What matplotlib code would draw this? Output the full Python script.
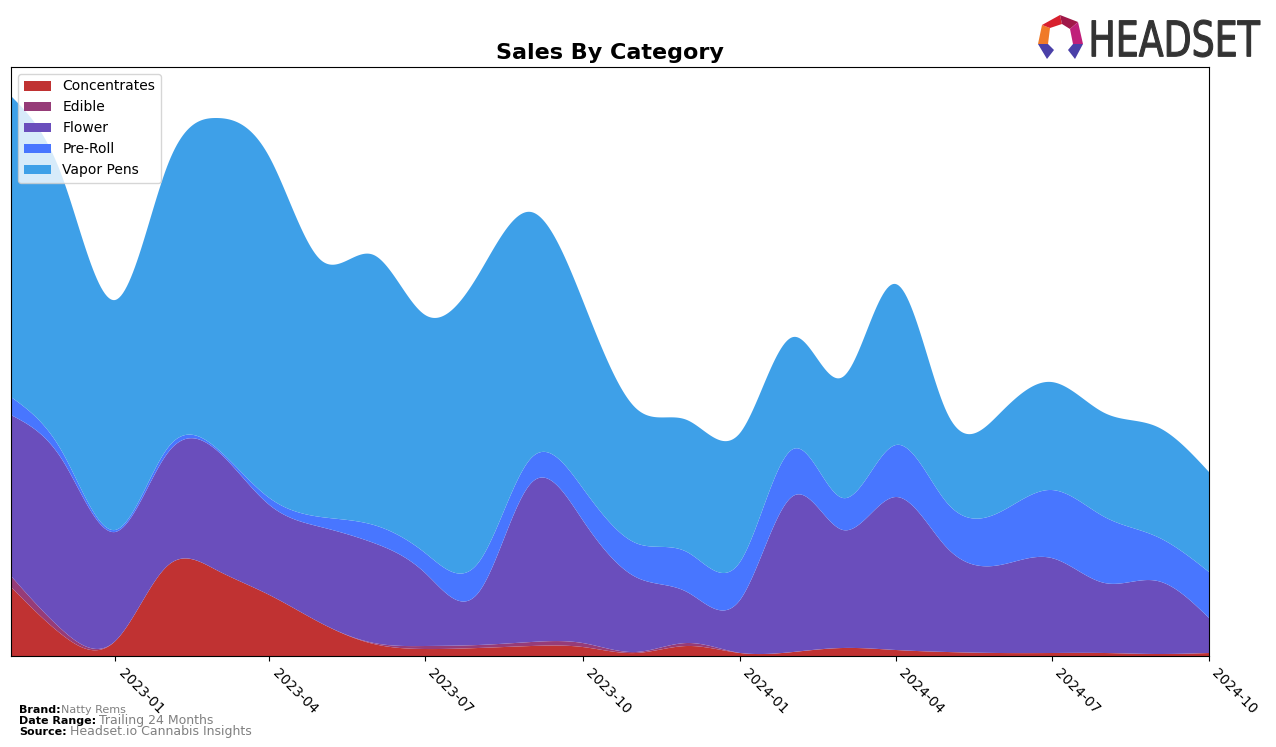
import numpy as np
import pandas as pd
import matplotlib
matplotlib.use('Agg')
import matplotlib.pyplot as plt
import matplotlib.dates as mdates
from matplotlib.patches import Polygon, PathPatch
from matplotlib.textpath import TextPath
from matplotlib.font_manager import FontProperties
from matplotlib.transforms import Affine2D

# monthly sales by category (relative units)
months = pd.date_range('2022-11-01', '2024-10-01', freq='MS')
concentrates = [69, 21, 15, 91, 86, 61, 33, 12, 7, 8, 10, 9, 3, 10, 3, 4, 8, 6, 4, 3, 3, 3, 2, 3]
edible = [11, 5, 0, 0, 0, 0, 0, 1, 3, 3, 4, 4, 1, 3, 0, 0, 0, 0, 0, 0, 0, 0, 0, 0]
flower = [161, 170, 109, 113, 120, 90, 96, 100, 73, 52, 159, 123, 75, 51, 53, 156, 118, 153, 104, 88, 95, 70, 73, 35]
pre_roll = [18, 8, 2, 5, 2, 7, 10, 18, 20, 30, 25, 32, 34, 40, 38, 47, 32, 52, 45, 53, 68, 66, 44, 46]
vapor_pens = [301, 275, 230, 284, 330, 341, 257, 270, 238, 288, 246, 188, 135, 132, 129, 112, 121, 161, 90, 99, 108, 104, 110, 100]

labels = ['Concentrates', 'Edible', 'Flower', 'Pre-Roll', 'Vapor Pens']
colors = ['#c03232', '#963c78', '#6a4ebc', '#4876ff', '#3ea0e8']


def natural_spline(x, y, xs):
    # plain natural cubic spline, numpy only
    x = np.asarray(x, float)
    y = np.asarray(y, float)
    n = len(x)
    h = np.diff(x)
    A = np.zeros((n, n))
    b = np.zeros(n)
    A[0, 0] = 1
    A[-1, -1] = 1
    for i in range(1, n - 1):
        A[i, i - 1] = h[i - 1]
        A[i, i] = 2 * (h[i - 1] + h[i])
        A[i, i + 1] = h[i]
        b[i] = 3 * ((y[i + 1] - y[i]) / h[i] - (y[i] - y[i - 1]) / h[i - 1])
    c = np.linalg.solve(A, b)
    bc = (y[1:] - y[:-1]) / h - h * (2 * c[:-1] + c[1:]) / 3
    d = (c[1:] - c[:-1]) / (3 * h)
    idx = np.clip(np.searchsorted(x, xs) - 1, 0, n - 2)
    dx = xs - x[idx]
    return y[idx] + bc[idx] * dx + c[idx] * dx ** 2 + d[idx] * dx ** 3


xnum = mdates.date2num(months)
xs = np.linspace(xnum[0], xnum[-1], 600)
series = [concentrates, edible, flower, pre_roll, vapor_pens]
smooth = [np.clip(natural_spline(xnum, s, xs), 0, None) for s in series]

fig = plt.figure(figsize=(12.76, 7.47), dpi=100)
ax = fig.add_axes([11 / 1276, 91 / 747, 1198 / 1276, 589 / 747])
ax.stackplot(xs, *smooth, labels=labels, colors=colors)
ax.set_xlim(xnum[0], xnum[-1])
ax.set_ylim(0, 589)
ax.set_yticks([])
ax.xaxis.set_major_locator(mdates.MonthLocator(bymonth=[1, 4, 7, 10]))
ax.xaxis.set_major_formatter(mdates.DateFormatter('%Y-%m'))
plt.setp(ax.get_xticklabels(), rotation=-45, ha='left')
ax.set_title('Sales By Category', fontsize=16, fontweight='bold', pad=6)
ax.legend(loc='upper left', fontsize=10)

# footer
fig.text(19 / 1276, 1 - 713 / 747, 'Brand:', fontsize=8, fontweight='bold')
fig.text(61 / 1276, 1 - 713 / 747, 'Natty Rems', fontsize=8, color='gray')
fig.text(19 / 1276, 1 - 724 / 747, 'Date Range:', fontsize=8, fontweight='bold')
fig.text(99 / 1276, 1 - 724 / 747, 'Trailing 24 Months', fontsize=9, color='gray')
fig.text(19 / 1276, 1 - 735 / 747, 'Source:', fontsize=8, fontweight='bold')
fig.text(70 / 1276, 1 - 735 / 747, 'Headset.io Cannabis Insights', fontsize=9, color='gray')

# logo: icon pieces in pixel coords
def fp(pts):
    return [(px / 1276, 1 - py / 747) for px, py in pts]

pieces = [
    ([(1038, 44), (1042, 25), (1050, 28), (1048, 44)], '#f07a28'),
    ([(1042, 25), (1060, 15), (1062, 24), (1050, 28)], '#d8202e'),
    ([(1060, 15), (1078, 22), (1070, 29), (1062, 24)], '#a01848'),
    ([(1078, 22), (1083, 44), (1073, 44), (1070, 29)], '#c0207a'),
    ([(1038, 44), (1048, 44), (1054, 50), (1047, 59)], '#4a40a8'),
    ([(1073, 44), (1083, 44), (1075, 59), (1068, 50)], '#4a40a8'),
]
for pts, col in pieces:
    fig.patches.append(Polygon(fp(pts), closed=True, facecolor=col,
                               edgecolor='none', transform=fig.transFigure))

tp = TextPath((0, 0), 'HEADSET', size=1, prop=FontProperties(family='DejaVu Sans'))
ext = tp.get_extents()
x0, x1, y0, y1 = 1092, 1260, 747 - 57, 747 - 20
sx = (x1 - x0) / ext.width / 1276
sy = (y1 - y0) / ext.height / 747
tr = Affine2D().translate(-ext.x0, -ext.y0).scale(sx, sy).translate(x0 / 1276, y0 / 747)
fig.patches.append(PathPatch(tr.transform_path(tp), facecolor='#333333',
                             edgecolor='#333333', linewidth=0.8, transform=fig.transFigure))

fig.savefig('out.png', dpi=100)
